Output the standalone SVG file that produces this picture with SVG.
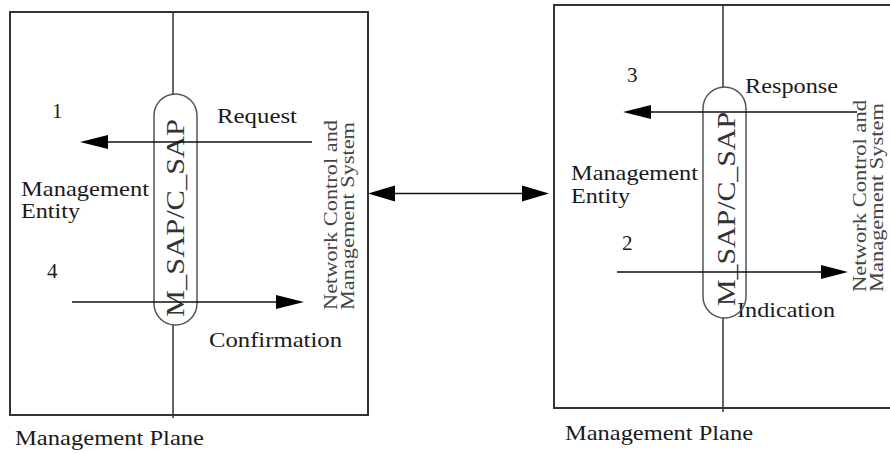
<svg xmlns="http://www.w3.org/2000/svg" width="890" height="454" viewBox="0 0 890 454" font-family="'Liberation Serif', 'DejaVu Serif', 'Times New Roman', serif">
<style>
.box{fill:none;stroke:#333;stroke-width:2}
.axis{stroke:#333;stroke-width:1.5;fill:none}
.cap{fill:none;stroke:#555;stroke-width:1.5}
.arr{stroke:#111;stroke-width:1.6;fill:none}
.head{fill:#000}
text{font-family:'Liberation Serif','DejaVu Serif','Times New Roman',serif;fill:#1a1a1a;font-size:21px}
.sap{font-size:25px;fill:#333}
.ncms{font-size:19px;fill:#444}
</style>
<rect width="890" height="454" fill="#fff"/>
<g id="left-plane">
<rect class="box" x="10" y="12" width="358" height="403"/>
<line class="axis" x1="173" y1="12" x2="173" y2="94"/>
<line class="axis" x1="173" y1="325" x2="173" y2="418"/>
<text x="52" y="118">1</text>
<text x="217" y="123" textLength="80" lengthAdjust="spacingAndGlyphs">Request</text>
<text x="21" y="196" textLength="128" lengthAdjust="spacingAndGlyphs">Management</text>
<text x="21" y="218" textLength="59" lengthAdjust="spacingAndGlyphs">Entity</text>
<text x="47" y="278">4</text>
<text x="209" y="347" textLength="133" lengthAdjust="spacingAndGlyphs">Confirmation</text>
<text x="15" y="445" textLength="189" lengthAdjust="spacingAndGlyphs">Management Plane</text>
<text class="ncms" transform="translate(337,310) rotate(-90)" textLength="190" lengthAdjust="spacingAndGlyphs">Network Control and</text>
<text class="ncms" transform="translate(354,310) rotate(-90)" textLength="188" lengthAdjust="spacingAndGlyphs">Management System</text>
</g>
<g id="left-sap">
<rect class="cap" x="154" y="94" width="43" height="231" rx="21.5" ry="21.5"/>
<text class="sap" transform="translate(184,317) rotate(-90)" textLength="198" lengthAdjust="spacingAndGlyphs">M_SAP/C_SAP</text>
</g>
<g id="right-plane">
<rect class="box" x="554" y="5" width="350" height="403"/>
<line class="axis" x1="723" y1="5" x2="723" y2="87"/>
<line class="axis" x1="723" y1="318" x2="723" y2="412"/>
<text x="627" y="82">3</text>
<text x="745" y="93" textLength="93" lengthAdjust="spacingAndGlyphs">Response</text>
<text x="571" y="180" textLength="127" lengthAdjust="spacingAndGlyphs">Management</text>
<text x="571" y="203" textLength="59" lengthAdjust="spacingAndGlyphs">Entity</text>
<text x="622" y="250">2</text>
<text x="737" y="317" textLength="98" lengthAdjust="spacingAndGlyphs">Indication</text>
<text x="565" y="440" textLength="188" lengthAdjust="spacingAndGlyphs">Management Plane</text>
<text class="ncms" transform="translate(866,292) rotate(-90)" textLength="192" lengthAdjust="spacingAndGlyphs">Network Control and</text>
<text class="ncms" transform="translate(883,292) rotate(-90)" textLength="189" lengthAdjust="spacingAndGlyphs">Management System</text>
</g>
<g id="right-sap">
<rect class="cap" x="703" y="87" width="43" height="231" rx="21.5" ry="21.5"/>
<text class="sap" transform="translate(735,306) rotate(-90)" textLength="194" lengthAdjust="spacingAndGlyphs">M_SAP/C_SAP</text>
</g>
<g id="connectors">
<line class="arr" x1="312" y1="142" x2="100" y2="142"/>
<polygon class="head" points="80,142 108,135 108,149"/>
<line class="arr" x1="72" y1="302" x2="284" y2="302"/>
<polygon class="head" points="304,302 276,295 276,309"/>
<line class="arr" x1="857" y1="112" x2="640" y2="112"/>
<polygon class="head" points="623,112 651,105 651,119"/>
<line class="arr" x1="617" y1="272" x2="830" y2="272"/>
<polygon class="head" points="848,272 821,265 821,279"/>
<line class="arr" x1="390" y1="193.5" x2="528" y2="193.5"/>
<polygon class="head" points="368,193.5 395,185.5 395,201.5"/>
<polygon class="head" points="549,193.5 522,185.5 522,201.5"/>
</g>
</svg>
